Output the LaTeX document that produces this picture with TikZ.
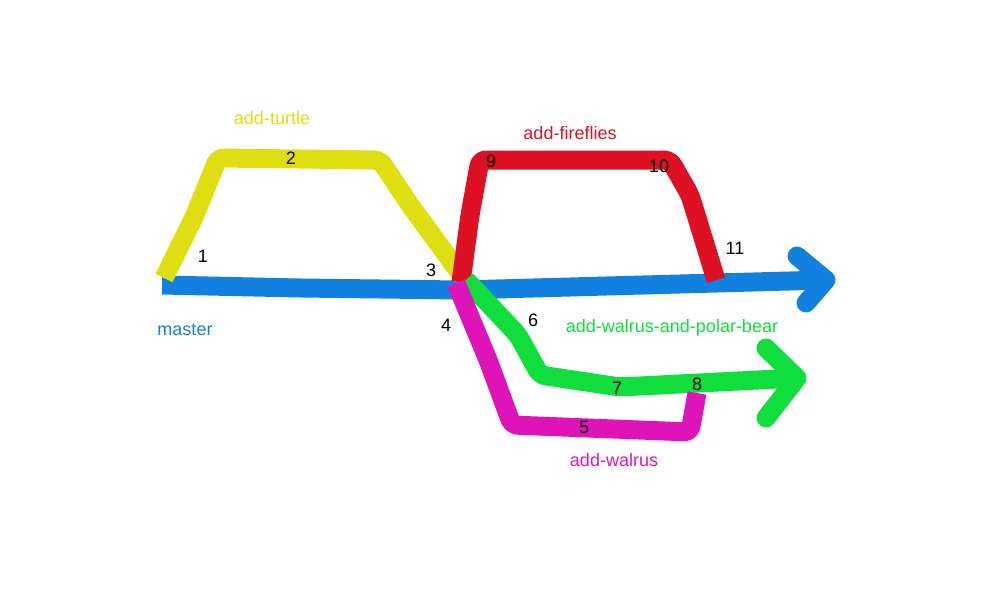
\documentclass[tikz,border=0pt]{standalone}
\usepackage{fontspec}
\setmainfont{Liberation Sans}
\definecolor{masterblue}{RGB}{18,128,222}
\definecolor{turtleyellow}{RGB}{222,222,16}
\definecolor{fireflyred}{RGB}{222,16,35}
\definecolor{walrusmagenta}{RGB}{222,20,185}
\definecolor{polargreen}{RGB}{16,222,60}

\begin{document}
\begin{tikzpicture}[x=0.5pt,y=-0.5pt,
    font=\fontsize{9}{10}\selectfont,
    branch/.style={line width=9.5pt, line join=round, rounded corners=3pt},
    tip/.style={line width=9.5pt, line join=round, line cap=round},
    commit/.style={text=black}]
    \useasboundingbox (0,0) rectangle (1000,600);

    % master
    \draw[branch, masterblue] (162,285) -- (300,288) -- (460,290) -- (826,280);
    \draw[tip, masterblue] (797,256) -- (826,280) -- (806,303);

    % add-turtle
    \draw[branch, turtleyellow] (164,278) -- (195,215) -- (218,158) -- (380,160) -- (410,205) -- (462,276);

    % add-fireflies
    \draw[branch, fireflyred] (461,282) -- (470,215) -- (480,160) -- (670,160) -- (690,195) -- (716,280);

    % add-walrus-and-polar-bear
    \draw[branch, polargreen] (466,280) -- (518,335) -- (540,375) -- (620,387) -- (797,378);
    \draw[tip, polargreen] (766,348) -- (797,378) -- (766,418);

    % add-walrus
    \draw[branch, walrusmagenta] (456,283) -- (488,360) -- (512,425) -- (690,432) -- (697,393);

    % labels
    \node[text=turtleyellow] (turtlelbl) at (272,118) {add-turtle};
    \node[text=fireflyred] (fireflylbl) at (570,133) {add-fireflies};
    \node[text=masterblue] (masterlbl) at (185,330) {master};
    \node[text=polargreen] (polarlbl) at (672,328) {add-walrus-and-polar-bear};
    \node[text=walrusmagenta] (walruslbl) at (614,460) {add-walrus};

    % commits
    \node[commit] (c1) at (203,256) {1};
    \node[commit] (c2) at (291,158) {2};
    \node[commit] (c3) at (431,270) {3};
    \node[commit] (c4) at (446,325) {4};
    \node[commit] (c5) at (584,427) {5};
    \node[commit] (c6) at (533,320) {6};
    \node[commit] (c7) at (617,388) {7};
    \node[commit] (c8) at (697,384) {8};
    \node[commit] (c9) at (491,161) {9};
    \node[commit] (c10) at (659,166) {10};
    \node[commit] (c11) at (735,248) {11};
\end{tikzpicture}
\end{document}
